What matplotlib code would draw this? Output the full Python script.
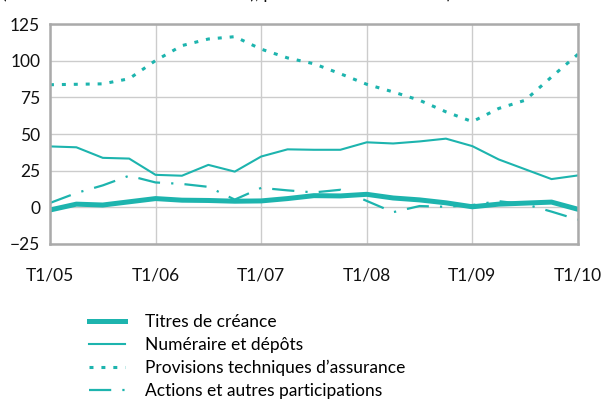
import matplotlib
matplotlib.use("Agg")
import matplotlib.pyplot as plt
import numpy as np

plt.rcParams['font.family'] = ['Lato', 'DejaVu Sans']

# trimestres T1/05 .. T1/10
quarters = np.arange(21)
tick_pos = [0, 4, 8, 12, 16, 20]
tick_labels = ["T1/05", "T1/06", "T1/07", "T1/08", "T1/09", "T1/10"]

titres = [-1.8, 2.2, 1.6, 3.8, 6.0, 4.9, 4.7, 4.2, 4.4, 6.0, 8.0, 7.8,
          8.9, 6.4, 5.1, 3.1, 0.4, 2.2, 2.9, 3.6, -1.3]
numeraire = [41.6, 41.0, 33.8, 33.3, 22.2, 21.6, 29.0, 24.4, 34.7, 39.6, 39.3, 39.3,
             44.4, 43.6, 45.0, 46.9, 41.8, 32.7, 26.0, 19.3, 21.8]
provisions = [83.7, 84.0, 84.3, 87.8, 100.2, 110.4, 114.9, 116.5, 108.0, 102.0, 98.0, 91.2,
              84.0, 78.8, 73.1, 65.2, 58.5, 67.5, 73.1, 89.0, 104.5]
actions = [3.0, 9.8, 15.0, 21.6, 17.0, 16.0, 14.0, 5.3, 13.3, 11.6, 10.2, 12.0,
           4.4, -3.3, 0.9, 0.4, 1.6, 4.2, 2.2, -2.9, -8.4]

col = "#1db4ae"
fs = 12.5

fig = plt.figure(figsize=(6.02, 4.07), dpi=100)
ax = fig.add_axes([0.083, 0.4005, 0.877, 0.540])

ax.plot(quarters, titres, color=col, lw=3.6, solid_joinstyle="round", label="Titres de créance")
ax.plot(quarters, numeraire, color=col, lw=1.5, label="Numéraire et dépôts")
ax.plot(quarters, provisions, color=col, lw=2.2, linestyle=(0, (1.3, 2.6)),
        label="Provisions techniques d’assurance")
ax.plot(quarters, actions, color=col, lw=1.6, linestyle=(0, (10, 5, 1, 5)),
        label="Actions et autres participations")

ax.set_xlim(0, 20)
ax.set_ylim(-25, 125)
ax.set_yticks([-25, 0, 25, 50, 75, 100, 125])
ax.set_xticks(tick_pos)
ax.set_xticklabels(tick_labels)
ax.grid(True, color="#cccccc", lw=1.0)
ax.set_axisbelow(True)
for s in ax.spines.values():
    s.set_color("#aaaaaa")
    s.set_linewidth(1.8)
ax.tick_params(length=0, labelsize=fs, colors="#111111")
ax.tick_params(axis="x", pad=17)
ax.tick_params(axis="y", pad=7)

# titre coupé en haut de l'image (seuls les jambages restent visibles)
fig.text(0.003, 1 + 1.0 / 407, "(flux annuels en milliards d’euros), par instrument financier)",
         fontsize=fs, color="#111111", va="baseline")

fig.legend(loc="upper left", bbox_to_anchor=(0.136, 0.245), bbox_transform=fig.transFigure,
           frameon=False, fontsize=fs, handlelength=2.1, handletextpad=1.15,
           labelspacing=0.4, borderaxespad=0)

fig.savefig("out.png", dpi=100)
